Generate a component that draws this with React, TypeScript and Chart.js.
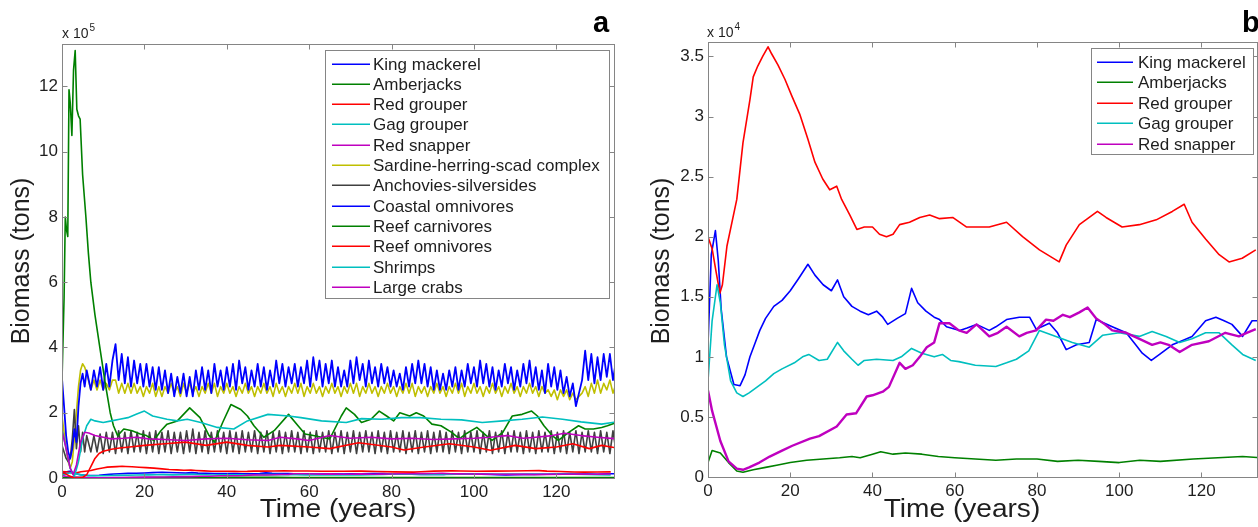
import React, { useEffect, useRef } from 'react';
import { Chart, registerables } from 'chart.js';

Chart.register(...registerables);

// ---------- shared axis data ----------
const xTicks = [0, 20, 40, 60, 80, 100, 120];
const xTickLabels = ['0', '20', '40', '60', '80', '100', '120'];
const yTicksA = [0, 2, 4, 6, 8, 10, 12];
const yTickLabelsA = ['0', '2', '4', '6', '8', '10', '12'];
const yTicksB = [0, 0.5, 1, 1.5, 2, 2.5, 3, 3.5];
const yTickLabelsB = ['0', '0.5', '1', '1.5', '2', '2.5', '3', '3.5'];

// ---------- panel b species (units of 10^4 tons) ----------
const tKingMackerel = [0, 0.8, 1.8, 2.5, 3.2, 4.5, 6.3, 7.8, 9, 10.2, 11.5, 12.6, 14, 16, 18, 20, 22, 24.3, 26, 28, 30, 31.5, 33, 35, 37, 39, 41, 42.5, 43.7, 46, 48, 49.5, 51, 53, 55, 56.3, 58, 61.2, 63, 65.3, 68.4, 70, 72.6, 75.7, 78.2, 79.8, 83, 85, 87.1, 89.6, 92.7, 94.4, 98.3, 101.7, 104, 105.6, 107.8, 109.8, 112.9, 115, 117.7, 121, 123.5, 125.5, 127.4, 130, 132.3, 134.5];
const vKingMackerel = [1.1, 1.85, 2.05, 1.8, 1.4, 1.0, 0.77, 0.76, 0.85, 1.0, 1.12, 1.22, 1.32, 1.42, 1.47, 1.55, 1.65, 1.77, 1.68, 1.6, 1.55, 1.64, 1.5, 1.42, 1.38, 1.35, 1.38, 1.33, 1.27, 1.32, 1.36, 1.57, 1.45, 1.38, 1.33, 1.31, 1.25, 1.22, 1.24, 1.27, 1.22, 1.25, 1.31, 1.33, 1.33, 1.23, 1.28, 1.2, 1.06, 1.1, 1.12, 1.31, 1.25, 1.2, 1.1, 1.03, 0.97, 1.02, 1.1, 1.13, 1.17, 1.3, 1.33, 1.3, 1.27, 1.17, 1.3, 1.3];

const tAmberjacks = [0, 1, 3, 5, 7, 8.5, 11, 14, 17, 20, 24, 28, 32, 35, 37, 40, 42, 45, 48, 52, 56, 60, 65, 70, 75, 80, 85, 90, 95, 100, 105, 110, 118, 124, 130, 134.5];
const vAmberjacks = [0.12, 0.22, 0.2, 0.12, 0.05, 0.04, 0.06, 0.08, 0.1, 0.12, 0.14, 0.15, 0.16, 0.17, 0.16, 0.19, 0.21, 0.19, 0.2, 0.19, 0.17, 0.16, 0.15, 0.14, 0.15, 0.15, 0.13, 0.14, 0.13, 0.12, 0.14, 0.13, 0.15, 0.16, 0.17, 0.16];

const tRedGrouper = [0, 1, 2, 2.9, 3.5, 4.6, 7, 8.5, 10.2, 11, 12.1, 13.3, 14.6, 15.5, 17, 18.7, 20.4, 22.3, 24.3, 26, 27.9, 29.6, 31.3, 32.5, 34.5, 36.2, 38, 40, 41.7, 43.4, 45, 46.6, 49, 51.5, 53.9, 56.3, 59.5, 62.9, 68.4, 72.6, 76.5, 80.6, 85.4, 87.1, 90.3, 94.7, 96.8, 100.7, 104.9, 109, 112.9, 115.8, 117.7, 121, 124.3, 126.7, 129.9, 133.2];
const vRedGrouper = [2.0, 1.9, 1.7, 1.53, 1.6, 1.92, 2.31, 2.78, 3.14, 3.33, 3.42, 3.5, 3.58, 3.52, 3.43, 3.31, 3.17, 3.02, 2.81, 2.62, 2.48, 2.39, 2.42, 2.31, 2.18, 2.06, 2.08, 2.08, 2.02, 2.0, 2.02, 2.1, 2.12, 2.16, 2.18, 2.15, 2.16, 2.08, 2.08, 2.12, 2.0, 1.89, 1.79, 1.93, 2.1, 2.21, 2.16, 2.08, 2.1, 2.14, 2.21, 2.27, 2.12, 1.98, 1.85, 1.79, 1.82, 1.89];

const tGagGrouper = [0, 1, 2.2, 3, 4, 5.5, 7, 8.5, 10, 12, 14, 16, 18, 21, 23, 24.5, 27, 29, 31.5, 33, 35, 36.5, 38, 41, 45, 47, 49.5, 52, 55, 57, 59, 61, 65, 70, 72.6, 75, 78, 80.6, 84.6, 88.6, 92.7, 96, 100, 104.9, 108, 111.4, 114.7, 117.7, 121, 124.3, 127.4, 130, 133.2];
const vGagGrouper = [0.8, 1.3, 1.6, 1.45, 1.1, 0.8, 0.7, 0.67, 0.7, 0.75, 0.8, 0.86, 0.9, 0.95, 1.0, 1.02, 0.97, 0.98, 1.12, 1.05, 0.98, 0.93, 0.97, 0.98, 0.97, 1.0, 1.07, 1.03, 1.0, 1.02, 0.97, 0.96, 0.93, 0.92, 0.95, 0.98, 1.05, 1.22, 1.17, 1.12, 1.08, 1.18, 1.2, 1.17, 1.21, 1.17, 1.12, 1.15, 1.2, 1.2, 1.1, 1.02, 0.97];

const tRedSnapper = [0, 1, 3, 5, 7, 8.5, 10, 12.5, 15, 18, 20.5, 24.8, 27, 31.3, 33.7, 36, 38.6, 40, 42.5, 44, 46.6, 48, 49.8, 51.5, 53.2, 55, 56.3, 58.7, 61, 62.9, 65.3, 68.4, 70.5, 72.6, 75.7, 77.5, 79.8, 82.2, 84, 86.3, 88, 90.3, 92.3, 94.4, 96.5, 98.3, 101.7, 104.9, 108, 110, 112, 114.7, 117.7, 121.8, 125.8, 129.1, 131, 133.2];
const vRedSnapper = [0.72, 0.55, 0.3, 0.13, 0.07, 0.06, 0.08, 0.12, 0.17, 0.22, 0.26, 0.32, 0.34, 0.42, 0.52, 0.53, 0.67, 0.68, 0.71, 0.75, 0.95, 0.9, 0.93, 1.0, 1.08, 1.12, 1.28, 1.28, 1.22, 1.2, 1.27, 1.17, 1.2, 1.25, 1.17, 1.2, 1.22, 1.31, 1.3, 1.35, 1.33, 1.37, 1.41, 1.32, 1.27, 1.22, 1.2, 1.15, 1.1, 1.12, 1.1, 1.04, 1.1, 1.13, 1.2, 1.17, 1.2, 1.23];

// ---------- panel a groups (units of 10^5 tons) ----------
// sampling times of the fast-oscillating groups: half-years to 6, then every 0.75 year
const tEarly = [0, 0.5, 1, 1.5, 2, 2.5, 3, 3.5, 4, 4.5, 5, 5.5, 6];
const tDense = [...tEarly, ...Array.from({ length: 171 }, (_, i) => 7 + i * 0.75)];

const vSardine = [1.9, 1.4, 0.9, 0.5, 0.3, 0.5, 1.2, 2.0, 2.8, 3.3, 3.5, 3.4, 3.2,
  2.7, 3.0, 2.7, 3.0, 2.7, 2.9, 2.7, 3.0, 3.0, 2.6, 2.9, 2.6,
  2.9, 2.6, 2.9, 2.6, 2.8, 2.5, 2.8, 2.6, 2.9, 2.5, 2.8, 2.5,
  2.8, 2.6, 2.9, 2.6, 2.8, 2.5, 2.9, 2.6, 2.9, 2.6, 2.8, 2.5,
  2.8, 2.6, 2.9, 2.6, 2.9, 2.5, 2.8, 2.6, 2.9, 2.6, 2.8, 2.5,
  2.8, 2.6, 2.9, 2.6, 2.8, 2.5, 2.8, 2.6, 2.9, 2.6, 2.8, 2.5,
  2.9, 2.6, 2.8, 2.5, 2.8, 2.6, 2.9, 2.6, 2.9, 2.5, 2.8, 2.6,
  2.9, 2.6, 2.8, 2.5, 2.8, 2.6, 2.9, 2.6, 2.8, 2.5, 2.8, 2.6,
  2.9, 2.6, 2.9, 2.5, 2.8, 2.6, 2.9, 2.6, 2.8, 2.5, 2.8, 2.6,
  2.9, 2.6, 2.8, 2.5, 2.8, 2.6, 2.9, 2.6, 2.9, 2.5, 2.8, 2.6,
  2.8, 2.5, 2.8, 2.6, 2.9, 2.6, 2.8, 2.5, 2.8, 2.6, 2.9, 2.6,
  2.9, 2.5, 2.8, 2.6, 2.9, 2.6, 2.8, 2.5, 2.8, 2.6, 2.9, 2.6,
  2.8, 2.5, 2.8, 2.6, 2.9, 2.6, 2.8, 2.5, 2.8, 2.6, 2.9, 2.6,
  2.8, 2.5, 2.8, 2.6, 2.7, 2.5, 2.7, 2.4, 2.7, 2.5, 2.7, 2.4,
  2.6, 2.4, 2.5, 2.6, 2.8, 2.5, 2.9, 2.6, 3.0, 2.6, 2.9, 2.7,
  3.0, 2.6, 2.9];

const vAnchovies = [1.0, 0.8, 0.6, 0.5, 0.6, 1.2, 2.1, 0.9, 1.6, 0.8, 1.4, 0.8, 1.3,
  0.8, 1.3, 0.8, 1.35, 0.75, 1.4, 0.8, 1.4, 0.75, 1.45, 0.8, 1.4,
  0.75, 1.45, 0.8, 1.4, 0.8, 1.45, 0.75, 1.4, 0.8, 1.45, 0.75, 1.4,
  0.8, 1.45, 0.75, 1.4, 0.8, 1.4, 0.75, 1.45, 0.8, 1.5, 0.75, 1.4,
  0.8, 1.45, 0.75, 1.4, 0.8, 1.45, 0.8, 1.4, 0.75, 1.45, 0.8, 1.4,
  0.75, 1.45, 0.8, 1.4, 0.8, 1.45, 0.75, 1.4, 0.8, 1.45, 0.75, 1.4,
  0.8, 1.45, 0.75, 1.4, 0.8, 1.45, 0.8, 1.4, 0.75, 1.45, 0.8, 1.4,
  0.75, 1.45, 0.8, 1.4, 0.8, 1.45, 0.75, 1.4, 0.8, 1.45, 0.75, 1.4,
  0.8, 1.45, 0.75, 1.4, 0.8, 1.45, 0.8, 1.4, 0.75, 1.45, 0.8, 1.4,
  0.75, 1.45, 0.8, 1.4, 0.8, 1.45, 0.75, 1.4, 0.8, 1.45, 0.75, 1.4,
  0.8, 1.45, 0.75, 1.4, 0.8, 1.45, 0.8, 1.4, 0.75, 1.45, 0.8, 1.4,
  0.75, 1.45, 0.8, 1.4, 0.8, 1.45, 0.75, 1.4, 0.8, 1.45, 0.75, 1.4,
  0.8, 1.45, 0.75, 1.4, 0.8, 1.45, 0.8, 1.4, 0.75, 1.45, 0.8, 1.4,
  0.75, 1.45, 0.8, 1.4, 0.8, 1.45, 0.75, 1.4, 0.8, 1.45, 0.75, 1.4,
  0.8, 1.45, 0.75, 1.4, 0.8, 1.45, 0.8, 1.4, 0.75, 1.45, 0.8, 1.4,
  0.75, 1.45, 0.8];

const vCoastalOmnivores = [3.05, 2.2, 1.3, 0.8, 0.6, 0.9, 1.5, 1.1, 2.2, 2.9, 3.2, 2.8, 3.3,
  2.7, 3.3, 2.8, 3.4, 2.7, 3.5, 2.8, 3.6, 4.1, 3.0, 3.8, 2.9,
  3.7, 2.8, 3.6, 2.9, 3.5, 2.8, 3.5, 2.8, 3.4, 2.7, 3.4, 2.7,
  3.3, 2.6, 3.2, 2.5, 3.1, 2.6, 3.2, 2.5, 3.1, 2.5, 3.3, 2.7,
  3.4, 2.7, 3.3, 2.6, 3.5, 2.8, 3.3, 2.7, 3.4, 2.8, 3.5, 2.7,
  3.6, 2.9, 3.4, 2.7, 3.3, 2.8, 3.5, 2.8, 3.4, 2.7, 3.3, 2.8,
  3.6, 2.9, 3.5, 2.8, 3.4, 2.9, 3.5, 2.8, 3.4, 2.9, 3.6, 2.8,
  3.7, 3.0, 3.6, 2.8, 3.5, 2.9, 3.6, 2.8, 3.4, 2.8, 3.3, 2.8,
  3.6, 2.9, 3.7, 3.0, 3.5, 2.8, 3.6, 2.9, 3.4, 2.8, 3.5, 2.9,
  3.4, 2.8, 3.3, 2.8, 3.2, 2.7, 3.4, 2.8, 3.5, 2.9, 3.6, 2.9,
  3.5, 2.8, 3.4, 2.7, 3.3, 2.7, 3.2, 2.7, 3.3, 2.8, 3.4, 2.7,
  3.3, 2.8, 3.5, 2.9, 3.4, 2.8, 3.6, 2.9, 3.5, 2.8, 3.4, 2.7,
  3.3, 2.8, 3.5, 2.9, 3.4, 2.7, 3.3, 2.8, 3.5, 2.9, 3.6, 2.8,
  3.4, 2.7, 3.3, 2.6, 3.5, 2.8, 3.4, 2.7, 3.3, 2.6, 3.1, 2.5,
  2.9, 2.2, 2.6, 3.0, 3.9, 3.0, 3.8, 2.9, 3.7, 3.0, 3.8, 3.1,
  3.8, 3.0, 3.6];

const tReefCarnivores = [0, 0.5, 0.8, 1.1, 1.4, 1.7, 2.0, 2.4, 2.8, 3.2, 3.6, 4.0, 4.4, 5.0, 5.8, 6.4, 7.0, 8.0, 9.3, 10.5, 11.7, 12.5, 13.5, 15, 17, 19, 20.5, 22.3, 24, 25.5, 28, 31, 33.5, 35.7, 37, 39, 41, 43.4, 45, 46.6, 49, 51.5, 55, 57.3, 59, 61, 63, 65, 67.8, 69, 71, 72.7, 75, 77, 78.8, 80.5, 82, 84.4, 86, 87.8, 89.8, 92, 94.6, 96.5, 98, 100.7, 103, 104.4, 107, 109.3, 111.7, 114, 115.4, 117, 119, 120.5, 123, 125.4, 127, 129, 131, 132.4, 134.6];
const vReefCarnivores = [3.0, 5.5, 8.0, 7.6, 7.4, 11.9, 11.5, 10.5, 12.5, 13.1, 11.3, 11.1, 11.0, 9.3, 8.0, 6.9, 6.0, 5.0, 3.9, 2.9, 2.0, 1.6, 1.3, 1.5, 1.45, 1.35, 1.3, 1.15, 1.45, 1.65, 1.75, 2.15, 1.85, 1.3, 1.1, 1.7, 2.25, 2.1, 1.9, 1.6, 1.25, 1.45, 1.95, 1.6, 1.35, 1.3, 1.25, 1.2, 1.9, 2.15, 1.95, 1.7, 1.8, 2.05, 1.9, 1.75, 2.0, 1.9, 2.0, 1.9, 1.65, 1.6, 1.4, 1.2, 1.35, 1.55, 1.3, 1.15, 1.4, 1.9, 1.95, 2.05, 1.9, 1.6, 1.3, 1.15, 1.4, 1.6, 1.5, 1.5, 1.55, 1.6, 1.7];

const tReefOmnivores = [0, 1, 2, 3, 4, 5, 6, 7, 8, 9, 10, 12, 14, 17, 20, 25, 30, 35, 40, 45, 50, 53, 60, 65, 72, 80, 83, 88, 94, 100, 104, 110, 115, 120, 124, 128, 131, 134.6];
const vReefOmnivores = [0.18, 0.12, 0.05, 0.0, 0.0, 0.02, 0.1, 0.35, 0.6, 0.75, 0.82, 0.88, 0.92, 0.96, 1.0, 1.05, 1.1, 1.0, 1.1, 1.0, 0.95, 1.0, 0.95, 0.9, 1.08, 0.95, 0.86, 0.95, 1.05, 0.95, 0.85, 1.0, 0.9, 0.95, 1.05, 0.9, 1.0, 0.92];

const tShrimps = [0, 1, 2, 3, 4, 5, 6, 7, 8, 10, 12, 14, 16, 18, 20, 22, 25.5, 28, 30.4, 33.7, 37.7, 41.7, 45, 50, 55, 58, 63, 69, 72.7, 77.6, 82.4, 87, 92, 97, 102, 107, 111.7, 116.6, 121.5, 126, 131, 134.6];
const vShrimps = [1.5, 0.9, 0.3, 0.05, 0.5, 1.2, 1.6, 1.8, 1.75, 1.7, 1.75, 1.8, 1.85, 1.95, 2.05, 1.9, 1.8, 1.75, 1.8, 1.7, 1.55, 1.5, 1.75, 1.95, 1.9, 1.85, 1.75, 1.7, 1.82, 1.8, 1.85, 1.85, 1.8, 1.78, 1.7, 1.75, 1.8, 1.87, 1.8, 1.72, 1.65, 1.72];

const tLargeCrabs = [0, 1, 2, 2.7, 3.5, 4.5, 5.5, 6.5, 8, 10, 12, 15, 18, 21, 25, 30, 35, 40, 45, 50, 53, 57, 60, 65, 70, 75, 80, 85, 90, 95, 100, 104, 108, 112, 115, 119, 122, 126, 130, 134.6];
const vLargeCrabs = [1.45, 0.9, 0.3, 0.1, 0.4, 1.1, 1.4, 1.38, 1.3, 1.25, 1.2, 1.22, 1.25, 1.2, 1.18, 1.15, 1.2, 1.22, 1.17, 1.15, 1.25, 1.2, 1.15, 1.3, 1.22, 1.25, 1.2, 1.22, 1.18, 1.2, 1.22, 1.25, 1.3, 1.22, 1.25, 1.3, 1.37, 1.3, 1.25, 1.2];

// ---------- styles ----------
const BLUE = '#0000ff';
const GREEN = '#008000';
const RED = '#ff0000';
const CYAN = '#00bfbf';
const MAGENTA = '#bf00bf';
const OLIVE = '#bfbf00';
const DARK = '#404040';
const FONT = '"Liberation Sans", Arial, Helvetica, sans-serif';
const AXIS_COLOR = '#858585';
const TEXT_COLOR = '#1e1e1e';

type Pt = { x: number; y: number };
function zip(t: number[], v: number[], k = 1): Pt[] {
  const n = Math.min(t.length, v.length);
  const out: Pt[] = [];
  for (let i = 0; i < n; i++) out.push({ x: t[i], y: v[i] * k });
  return out;
}

// panel a shows the five fish species in 10^5 tons (their data above are in 10^4 tons)
const TO_1E5 = 0.1;

const seriesA = [
  { label: 'King mackerel', color: BLUE, data: zip(tKingMackerel, vKingMackerel, TO_1E5) },
  { label: 'Amberjacks', color: GREEN, data: zip(tAmberjacks, vAmberjacks, TO_1E5) },
  { label: 'Red grouper', color: RED, data: zip(tRedGrouper, vRedGrouper, TO_1E5) },
  { label: 'Gag grouper', color: CYAN, data: zip(tGagGrouper, vGagGrouper, TO_1E5) },
  { label: 'Red snapper', color: MAGENTA, data: zip(tRedSnapper, vRedSnapper, TO_1E5) },
  { label: 'Sardine-herring-scad complex', color: OLIVE, data: zip(tDense, vSardine) },
  { label: 'Anchovies-silversides', color: DARK, data: zip(tDense, vAnchovies) },
  { label: 'Coastal omnivores', color: BLUE, data: zip(tDense, vCoastalOmnivores), width: 1.8 },
  { label: 'Reef carnivores', color: GREEN, data: zip(tReefCarnivores, vReefCarnivores) },
  { label: 'Reef omnivores', color: RED, data: zip(tReefOmnivores, vReefOmnivores) },
  { label: 'Shrimps', color: CYAN, data: zip(tShrimps, vShrimps) },
  { label: 'Large crabs', color: MAGENTA, data: zip(tLargeCrabs, vLargeCrabs) },
];

const seriesB = [
  { label: 'King mackerel', color: BLUE, data: zip(tKingMackerel, vKingMackerel) },
  { label: 'Amberjacks', color: GREEN, data: zip(tAmberjacks, vAmberjacks) },
  { label: 'Red grouper', color: RED, data: zip(tRedGrouper, vRedGrouper) },
  { label: 'Gag grouper', color: CYAN, data: zip(tGagGrouper, vGagGrouper) },
  { label: 'Red snapper', color: MAGENTA, data: zip(tRedSnapper, vRedSnapper), width: 2.4 },
];

const H = 527;

const panelA = {
  left: 0, width: 629,
  area: { left: 62, right: 614, top: 44, bottom: 478 },
  xMax: 134, yMax: 13.3,
  yTicks: yTicksA, yTickLabels: yTickLabelsA,
  series: seriesA,
  exponent: { x: 62, y: 38, base: 'x 10', sup: '5' },
  letter: { x: 593, y: 32, text: 'a' },
  yTitle: { x: 22, y: 261 },
  xTitle: { x: 338, y: 517 },
  legend: { box: [325, 50, 609, 298], line: [332, 370], textX: 373, row0: 63.5, gap: 20.3 },
};

const panelB = {
  left: 629, width: 629,
  area: { left: 79, right: 628, top: 42, bottom: 477 },
  xMax: 133.5, yMax: 3.62,
  yTicks: yTicksB, yTickLabels: yTickLabelsB,
  series: seriesB,
  exponent: { x: 78, y: 37, base: 'x 10', sup: '4' },
  letter: { x: 613, y: 32, text: 'b' },
  yTitle: { x: 33, y: 261 },
  xTitle: { x: 333, y: 517 },
  legend: { box: [462, 48, 624, 154], line: [468, 504], textX: 509, row0: 61.5, gap: 20.5 },
};

function makeDecor(cfg: any) {
  return {
    id: 'decor',
    afterDraw(chart: any) {
      const ctx: CanvasRenderingContext2D = chart.ctx;
      const { left, right, top, bottom } = chart.chartArea;
      const xs = chart.scales.x;
      const ys = chart.scales.y;
      const L = Math.round(left) + 0.5, R = Math.round(right) + 0.5;
      const T = Math.round(top) + 0.5, B = Math.round(bottom) + 0.5;
      ctx.save();
      ctx.strokeStyle = AXIS_COLOR;
      ctx.lineWidth = 1;
      ctx.beginPath();
      const tl = 5;
      for (const v of xTicks) {
        const p = Math.round(xs.getPixelForValue(v)) + 0.5;
        ctx.moveTo(p, B); ctx.lineTo(p, B - tl);
        ctx.moveTo(p, T); ctx.lineTo(p, T + tl);
      }
      for (const v of cfg.yTicks) {
        const p = Math.round(ys.getPixelForValue(v)) + 0.5;
        ctx.moveTo(L, p); ctx.lineTo(L + tl, p);
        ctx.moveTo(R, p); ctx.lineTo(R - tl, p);
      }
      ctx.stroke();
      ctx.strokeRect(L, T, R - L, B - T);

      // legend
      const lg = cfg.legend;
      ctx.fillStyle = '#ffffff';
      ctx.fillRect(lg.box[0], lg.box[1], lg.box[2] - lg.box[0], lg.box[3] - lg.box[1]);
      ctx.strokeStyle = AXIS_COLOR;
      ctx.lineWidth = 1;
      ctx.strokeRect(lg.box[0] + 0.5, lg.box[1] + 0.5, lg.box[2] - lg.box[0], lg.box[3] - lg.box[1]);
      ctx.font = `17px ${FONT}`;
      ctx.textBaseline = 'middle';
      ctx.textAlign = 'left';
      cfg.series.forEach((s: any, i: number) => {
        const y = Math.round(lg.row0 + i * lg.gap);
        ctx.fillStyle = s.color;
        ctx.fillRect(lg.line[0], y - 0.5, lg.line[1] - lg.line[0], 1.5);
        ctx.fillStyle = TEXT_COLOR;
        ctx.fillText(s.label, lg.textX, y + 1);
      });

      // exponent label
      ctx.fillStyle = TEXT_COLOR;
      ctx.textBaseline = 'alphabetic';
      ctx.font = `14px ${FONT}`;
      ctx.fillText(cfg.exponent.base, cfg.exponent.x, cfg.exponent.y);
      const w = ctx.measureText(cfg.exponent.base).width;
      ctx.font = `10px ${FONT}`;
      ctx.fillText(cfg.exponent.sup, cfg.exponent.x + w + 1, cfg.exponent.y - 7);

      // panel letter
      ctx.font = `bold 29px ${FONT}`;
      ctx.fillStyle = '#000';
      ctx.fillText(cfg.letter.text, cfg.letter.x, cfg.letter.y);

      // axis titles
      ctx.fillStyle = TEXT_COLOR;
      ctx.font = `26px ${FONT}`;
      ctx.textAlign = 'center';
      ctx.textBaseline = 'alphabetic';
      ctx.save();
      ctx.translate(cfg.xTitle.x, cfg.xTitle.y);
      ctx.scale(1.08, 1);
      ctx.fillText('Time (years)', 0, 0);
      ctx.restore();
      ctx.save();
      ctx.translate(cfg.yTitle.x, cfg.yTitle.y);
      ctx.rotate(-Math.PI / 2);
      ctx.textBaseline = 'middle';
      ctx.font = `25px ${FONT}`;
      ctx.fillText('Biomass (tons)', 0, 0);
      ctx.restore();
      ctx.restore();
    },
  };
}

function buildConfig(cfg: any) {
  const n = cfg.series.length;
  return {
    type: 'line' as const,
    data: {
      datasets: cfg.series.map((s: any, i: number) => ({
        label: s.label,
        data: s.data,
        borderColor: s.color,
        backgroundColor: s.color,
        borderWidth: s.width || 1.6,
        pointRadius: 0,
        tension: 0,
        fill: false,
        borderJoinStyle: 'round',
        order: n - i,
      })),
    },
    options: {
      responsive: false,
      animation: false,
      devicePixelRatio: 1,
      events: [],
      layout: { padding: { left: 0, right: cfg.width - cfg.area.right, top: cfg.area.top, bottom: 0 } },
      plugins: { legend: { display: false }, tooltip: { enabled: false }, title: { display: false } },
      scales: {
        x: {
          type: 'linear',
          min: 0,
          max: cfg.xMax,
          afterBuildTicks: (s: any) => { s.ticks = xTicks.map((v) => ({ value: v })); },
          afterFit: (s: any) => { s.height = H - cfg.area.bottom; },
          grid: { display: false, drawTicks: false },
          border: { display: false },
          ticks: {
            font: { family: FONT, size: 17 },
            color: TEXT_COLOR,
            padding: 4,
            maxRotation: 0,
            autoSkip: false,
            callback: (_v: any, i: number) => xTickLabels[i],
          },
        },
        y: {
          type: 'linear',
          min: 0,
          max: cfg.yMax,
          afterBuildTicks: (s: any) => { s.ticks = cfg.yTicks.map((v: number) => ({ value: v })); },
          afterFit: (s: any) => { s.width = cfg.area.left; },
          grid: { display: false, drawTicks: false },
          border: { display: false },
          ticks: {
            font: { family: FONT, size: 17 },
            color: TEXT_COLOR,
            padding: 4,
            autoSkip: false,
            callback: (_v: any, i: number) => cfg.yTickLabels[i],
          },
        },
      },
    },
    plugins: [makeDecor(cfg)],
  };
}

function Panel({ cfg }: { cfg: any }) {
  const ref = useRef<HTMLCanvasElement>(null);
  useEffect(() => {
    const chart = new Chart(ref.current as HTMLCanvasElement, buildConfig(cfg) as any);
    return () => chart.destroy();
  }, [cfg]);
  return (
    <canvas
      ref={ref}
      width={cfg.width}
      height={H}
      style={{ position: 'absolute', left: cfg.left, top: 0, width: cfg.width, height: H }}
    />
  );
}

export default function App() {
  return (
    <div style={{ position: 'absolute', left: 0, top: 0, width: 1258, height: H, background: '#ffffff', overflow: 'hidden' }}>
      <Panel cfg={panelA} />
      <Panel cfg={panelB} />
    </div>
  );
}
